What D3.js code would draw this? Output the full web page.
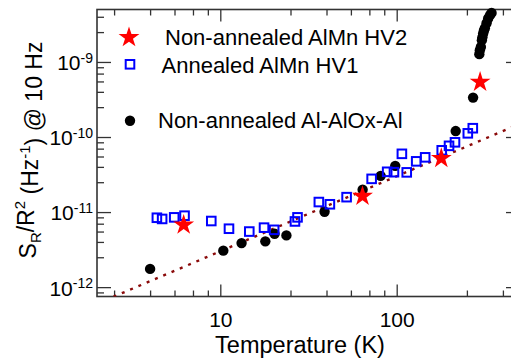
<!DOCTYPE html>
<html>
<head>
<meta charset="utf-8">
<script src="https://cdn.jsdelivr.net/npm/d3@7"></script>
<style>
  body { margin: 0; background: #fff; }
  svg { font-family: "Liberation Sans", Arial, sans-serif; }
</style>
</head>
<body>
<div id="chart"></div>
<script>
// Non-annealed AlMn HV2 (red stars)
var hv2T = [6.2, 64, 179, 297];
var hv2S = [6.75e-12, 1.63e-11, 5.2e-11, 5.4e-10];

// Annealed AlMn HV1 (open blue squares)
var hv1T = [4.37, 4.68, 5.48, 6.27, 8.89, 11.2, 14.6, 17.7, 20.2, 26.5, 27.4, 36.2, 41.8, 52.0,
            72.1, 88.3, 96.5, 107, 114, 129, 145, 180, 198, 214, 253, 270];
var hv1S = [8.4e-12, 8.1e-12, 8.5e-12, 8.95e-12, 7.6e-12, 6.0e-12, 5.5e-12, 6.2e-12, 5.8e-12, 7.5e-12,
            8.5e-12, 1.36e-11, 1.27e-11, 1.58e-11, 2.77e-11, 3.44e-11, 3.4e-11, 5.97e-11, 3.38e-11,
            4.74e-11, 5.36e-11, 6.65e-11, 7.63e-11, 8.5e-11, 1.12e-10, 1.31e-10];

// Non-annealed Al-AlOx-Al (black dots)
var aloxT = [4.0, 10.4, 13.2, 18.0, 20.3, 23.7, 39.0, 64.1, 81.1, 98.1, 216, 271,
             294, 296, 300, 304, 306, 309, 312, 316, 323, 330, 338, 345];
var aloxS = [1.75e-12, 3.06e-12, 3.86e-12, 4.07e-12, 5.15e-12, 4.89e-12, 1.01e-11, 1.99e-11,
             3.04e-11, 4.13e-11, 1.2e-10, 3.35e-10, 1.27e-9, 1.43e-9, 1.58e-9, 1.95e-9, 2.13e-9,
             2.39e-9, 2.61e-9, 2.81e-9, 3.28e-9, 3.79e-9, 4.2e-9, 4.5e-9];

// dotted guide line, S proportional to T
var fitT = [2, 500];
var fitS = [6e-13, 1.5e-10];

// ticks
var xMajor = [10, 100];
var xMinor = [2.5, 4, 5.5, 7, 8.5, 25, 40, 55, 70, 85, 250, 400];
var yMajor = [1e-12, 1e-11, 1e-10, 1e-9];
var yExp = ["-12", "-11", "-10", "-9"];
var yMinor = [8.5e-13, 2.5e-12, 4e-12, 5.5e-12, 7e-12, 8.5e-12, 2.5e-11, 4e-11, 5.5e-11, 7e-11, 8.5e-11,
              2.5e-10, 4e-10, 5.5e-10, 7e-10, 8.5e-10, 2.5e-9, 4e-9];

var width = 511, height = 364,
    pLeft = 97, pRight = 520, pTop = 9.5, pBottom = 296.5;

var svg = d3.select("#chart").append("svg")
  .attr("width", width)
  .attr("height", height);

var x = d3.scaleLog().domain([2, 500]).range([pLeft, pRight]);
var y = d3.scaleLog().domain([7.5e-13, 5e-9]).range([pBottom, pTop]);

var axisColor = "#333";

// Bottom axis with labels
var gx = svg.append("g")
  .attr("transform", "translate(0," + pBottom + ")")
  .call(d3.axisBottom(x).tickValues(xMajor).tickSize(-12).tickPadding(16)
    .tickFormat(d3.format("d")));
gx.selectAll("text").attr("font-size", 21).attr("fill", "#000").attr("font-family", null);
svg.append("g")
  .attr("transform", "translate(0," + pBottom + ")")
  .call(d3.axisBottom(x).tickValues(xMinor).tickSize(-6).tickFormat(""));

// Top axis, mirror ticks
svg.append("g")
  .attr("transform", "translate(0," + pTop + ")")
  .call(d3.axisTop(x).tickValues(xMajor).tickSize(-12).tickFormat(""));
svg.append("g")
  .attr("transform", "translate(0," + pTop + ")")
  .call(d3.axisTop(x).tickValues(xMinor).tickSize(-6).tickFormat(""));

// Left axis
svg.append("g")
  .attr("transform", "translate(" + pLeft + ",0)")
  .call(d3.axisLeft(y).tickValues(yMajor).tickSize(-14).tickFormat(""));
svg.append("g")
  .attr("transform", "translate(" + pLeft + ",0)")
  .call(d3.axisLeft(y).tickValues(yMinor).tickSize(-7).tickFormat(""));

// Right axis
svg.append("g")
  .attr("transform", "translate(" + pRight + ",0)")
  .call(d3.axisRight(y).tickValues(yMajor).tickSize(-14).tickFormat(""));
svg.append("g")
  .attr("transform", "translate(" + pRight + ",0)")
  .call(d3.axisRight(y).tickValues(yMinor).tickSize(-7).tickFormat(""));

svg.selectAll(".domain").remove();
svg.selectAll(".tick line").attr("stroke", axisColor).attr("stroke-width", 1.3);

// frame
svg.append("rect")
  .attr("x", pLeft).attr("y", pTop)
  .attr("width", pRight - pLeft).attr("height", pBottom - pTop)
  .attr("fill", "none").attr("stroke", axisColor).attr("stroke-width", 1.6);

// y tick labels 10^n
var ylab = svg.append("g").attr("font-size", 21);
yMajor.forEach(function (v, i) {
  var t = ylab.append("text")
    .attr("x", pLeft - 4)
    .attr("y", y(v))
    .attr("dy", "0.4em")
    .attr("text-anchor", "end");
  t.append("tspan").text("10");
  t.append("tspan").attr("dy", "-0.55em").attr("font-size", 14).text(yExp[i]);
});

// plot clip for the guide line
svg.append("clipPath").attr("id", "plotclip")
  .append("rect").attr("x", pLeft).attr("y", pTop)
  .attr("width", pRight - pLeft).attr("height", pBottom - pTop);

var line = d3.line().x(function (d) { return x(d[0]); }).y(function (d) { return y(d[1]); });
svg.append("path")
  .attr("clip-path", "url(#plotclip)")
  .attr("d", line(d3.zip(fitT, fitS)))
  .attr("fill", "none")
  .attr("stroke", "#8b0a0a")
  .attr("stroke-width", 2.4)
  .attr("stroke-dasharray", "3,6");

// dots
svg.append("g").selectAll("circle")
  .data(d3.zip(aloxT, aloxS))
  .enter().append("circle")
  .attr("cx", function (d) { return x(d[0]); })
  .attr("cy", function (d) { return y(d[1]); })
  .attr("r", 5.2)
  .attr("fill", "#000");

// squares
var sq = 8.6;
svg.append("g").selectAll("rect")
  .data(d3.zip(hv1T, hv1S))
  .enter().append("rect")
  .attr("x", function (d) { return x(d[0]) - sq / 2; })
  .attr("y", function (d) { return y(d[1]) - sq / 2; })
  .attr("width", sq).attr("height", sq)
  .attr("fill", "none")
  .attr("stroke", "#0000ff")
  .attr("stroke-width", 2);

// stars
var star = d3.symbol().type(d3.symbolStar).size(135);
svg.append("g").selectAll("path")
  .data(d3.zip(hv2T, hv2S))
  .enter().append("path")
  .attr("d", star)
  .attr("transform", function (d) { return "translate(" + x(d[0]) + "," + y(d[1]) + ")"; })
  .attr("fill", "#ff0000");

// legend
var leg = svg.append("g").attr("font-size", 22);
leg.append("path").attr("d", star).attr("transform", "translate(129,37.5)").attr("fill", "#ff0000");
leg.append("text").attr("x", 165).attr("y", 45).text("Non-annealed AlMn HV2");
leg.append("rect").attr("x", 130 - sq / 2).attr("y", 64.3 - sq / 2).attr("width", sq).attr("height", sq)
  .attr("fill", "none").attr("stroke", "#0000ff").attr("stroke-width", 2);
leg.append("text").attr("x", 161.5).attr("y", 72.5).text("Annealed AlMn HV1");
leg.append("circle").attr("cx", 130).attr("cy", 120.7).attr("r", 5.2).attr("fill", "#000");
leg.append("text").attr("x", 158).attr("y", 128.3).text("Non-annealed Al-AlOx-Al");

// axis titles
svg.append("text")
  .attr("x", 300).attr("y", 353)
  .attr("text-anchor", "middle")
  .attr("font-size", 23.5)
  .text("Temperature (K)");

var yt = svg.append("text")
  .attr("transform", "translate(36,150) rotate(-90)")
  .attr("text-anchor", "middle")
  .attr("font-size", 23);
yt.append("tspan").text("S");
yt.append("tspan").attr("font-size", 15).attr("dy", "0.3em").text("R");
yt.append("tspan").attr("dy", "-0.3em").text("/R");
yt.append("tspan").attr("font-size", 15).attr("dy", "-0.55em").text("2");
yt.append("tspan").attr("dy", "0.55em").text("  (Hz");
yt.append("tspan").attr("font-size", 15).attr("dy", "-0.55em").text("-1");
yt.append("tspan").attr("dy", "0.55em").text(") @ 10 Hz");
</script>
</body>
</html>
